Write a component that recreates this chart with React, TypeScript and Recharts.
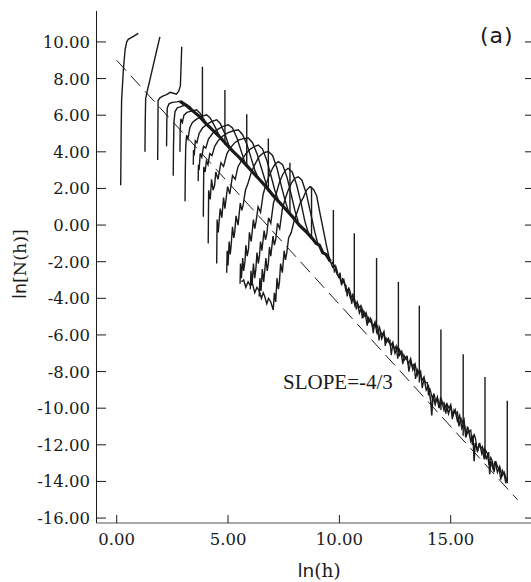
import React from "react";
import { ComposedChart, Line, XAxis, YAxis } from "recharts";

// axis ranges (the right frame edge is just outside the picture)
const X_DOMAIN: [number, number] = [-0.907, 18.74];
const Y_DOMAIN: [number, number] = [-16.27, 11.69];
const xTicks = [0, 5, 10, 15];
const yTicks = [-16, -14, -12, -10, -8, -6, -4, -2, 0, 2, 4, 6, 8, 10];

// dashed fit, slope -4/3
const fitLine = [[0, 9], [18, -15]];

// first three (short) curves
const curveA1 = [[0.18, 2.18], [0.2, 5.0], [0.22, 6.8], [0.3, 8.5], [0.38, 9.6], [0.45, 10.01], [0.52, 10.14], [0.75, 10.3], [0.97, 10.47]];
const curveA2 = [[1.27, 4.0], [1.28, 5.5], [1.3, 6.9], [1.35, 7.2], [1.6, 8.5], [1.78, 9.45], [1.94, 10.28]];
const curveA3 = [[1.84, 3.55], [1.85, 5.2], [1.86, 6.8], [1.94, 6.95], [2.09, 7.05], [2.24, 7.12], [2.4, 7.25], [2.55, 7.2], [2.68, 7.15], [2.78, 7.3], [2.86, 7.6], [2.92, 9.74]];

// bump curves: left edge, noisy rise, rounded peak, fall onto the common band
const bumpB = [[2.24, 4.3], [2.25, 5.6], [2.27, 6.4], [2.35, 6.62], [2.5, 6.7], [2.7, 6.73], [2.84, 6.76], [3.0, 6.68], [3.2, 6.45], [3.4, 6.25]];
const bumpC = [[2.54, 2.7], [2.55, 4.2], [2.57, 5.6], [2.62, 6.2], [2.72, 6.4], [2.85, 6.45], [3.0, 6.52], [3.14, 6.58], [3.3, 6.45], [3.5, 6.15], [3.7, 5.9]];
const bumpD = [[2.84, 4.0], [2.85, 5.2], [2.88, 5.8], [2.95, 5.6], [3.02, 6.0], [3.15, 6.15], [3.35, 6.22], [3.59, 6.3], [3.75, 6.1], [3.95, 5.7], [4.15, 5.35]];
const bumpE = [[3.07, 1.3], [3.08, 2.9], [3.1, 4.3], [3.14, 4.9], [3.2, 4.7], [3.28, 5.3], [3.4, 5.6], [3.6, 5.8], [3.85, 5.95], [4.04, 6.02], [4.2, 5.85], [4.4, 5.4], [4.6, 4.9]];
const bumpF = [[3.44, 3.3], [3.45, 4.1], [3.48, 3.8], [3.53, 4.6], [3.6, 4.5], [3.7, 5.0], [3.85, 5.3], [4.05, 5.5], [4.25, 5.65], [4.49, 5.75], [4.65, 5.55], [4.85, 5.0], [5.05, 4.3]];
const bumpG = [[3.66, 2.4], [3.67, 3.3], [3.7, 3.0], [3.75, 3.9], [3.82, 3.7], [3.9, 4.3], [4.0, 4.2], [4.12, 4.7], [4.3, 5.0], [4.5, 5.2], [4.75, 5.38], [5.01, 5.48], [5.2, 5.3], [5.4, 4.75], [5.6, 4.0], [5.75, 3.45]];
const bumpH = [[3.89, 0.45], [3.9, 1.8], [3.91, 3.18], [3.97, 2.9], [4.03, 3.5], [4.1, 3.3], [4.18, 3.9], [4.28, 3.8], [4.4, 4.3], [4.55, 4.6], [4.75, 4.85], [5.0, 5.05], [5.25, 5.15], [5.46, 5.2], [5.65, 4.95], [5.85, 4.4], [6.05, 3.6], [6.2, 3.0], [6.35, 2.6]];
const bumpI = [[4.11, -1.0], [4.12, 0.5], [4.13, 1.9], [4.2, 1.4], [4.26, 2.5], [4.33, 1.9], [4.4, 2.2], [4.45, 2.9], [4.55, 2.5], [4.62, 3.0], [4.68, 3.4], [4.8, 3.2], [4.95, 3.9], [5.1, 4.2], [5.3, 4.5], [5.5, 4.65], [5.7, 4.72], [5.91, 4.75], [6.1, 4.5], [6.3, 3.9], [6.5, 3.1], [6.65, 2.5], [6.8, 1.95]];
const bumpJ = [[4.49, -2.1], [4.5, -0.8], [4.51, 0.3], [4.56, -0.4], [4.6, 0.2], [4.65, 0.9], [4.72, 0.4], [4.8, 1.5], [4.86, 0.9], [4.9, 1.3], [4.98, 2.1], [5.08, 1.7], [5.2, 2.7], [5.32, 2.5], [5.45, 3.2], [5.6, 3.5], [5.8, 3.9], [6.0, 4.15], [6.2, 4.3], [6.36, 4.37], [6.55, 4.15], [6.75, 3.5], [6.95, 2.6], [7.1, 1.9], [7.25, 1.4]];
const bumpK = [[4.94, -2.6], [4.96, -1.4], [5.0, -2.2], [5.05, -0.9], [5.1, -1.6], [5.14, -1.1], [5.2, -0.1], [5.26, -0.7], [5.3, -0.4], [5.36, 0.5], [5.45, 0.0], [5.55, 1.2], [5.62, 0.8], [5.68, 1.1], [5.78, 1.9], [5.9, 2.3], [6.05, 2.9], [6.2, 3.3], [6.4, 3.75], [6.6, 3.95], [6.81, 4.02], [7.0, 3.8], [7.2, 3.1], [7.4, 2.1], [7.55, 1.4], [7.7, 0.8]];
const bumpL = [[5.54, -3.2], [5.56, -2.1], [5.6, -2.9], [5.66, -1.8], [5.7, -2.5], [5.76, -2.0], [5.8, -1.1], [5.86, -1.7], [5.92, -1.3], [5.96, -0.4], [6.04, -0.9], [6.14, 0.3], [6.2, -0.2], [6.26, 0.2], [6.35, 1.0], [6.46, 0.7], [6.58, 1.7], [6.7, 2.2], [6.85, 2.7], [7.0, 3.1], [7.13, 3.35], [7.26, 3.46], [7.45, 3.3], [7.65, 2.6], [7.85, 1.6], [8.0, 0.8], [8.15, 0.2]];
const bumpM = [[6.0, -3.5], [6.03, -2.5], [6.08, -3.3], [6.14, -2.1], [6.2, -2.9], [6.25, -2.4], [6.3, -1.5], [6.36, -2.1], [6.41, -1.7], [6.46, -0.9], [6.52, -1.4], [6.62, -0.3], [6.68, -0.8], [6.74, -0.5], [6.82, 0.4], [6.92, 0.1], [7.04, 1.2], [7.16, 1.7], [7.3, 2.3], [7.45, 2.75], [7.58, 3.0], [7.7, 3.1], [7.88, 2.9], [8.08, 2.2], [8.28, 1.2], [8.45, 0.2], [8.6, -0.4]];
const bumpN = [[6.4, -3.9], [6.43, -2.9], [6.48, -3.6], [6.54, -2.4], [6.6, -3.1], [6.64, -2.6], [6.7, -1.8], [6.76, -2.5], [6.81, -2.1], [6.86, -1.2], [6.92, -1.7], [7.02, -0.6], [7.08, -1.1], [7.14, -0.8], [7.22, 0.1], [7.32, -0.2], [7.44, 0.9], [7.56, 1.4], [7.7, 1.9], [7.85, 2.3], [8.0, 2.55], [8.15, 2.64], [8.32, 2.45], [8.52, 1.7], [8.72, 0.6], [8.9, -0.4], [9.05, -1.1]];
const bumpO = [[5.6, -3.1], [5.7, -3.0], [5.8, -3.4], [5.9, -3.1], [6.0, -3.3], [6.1, -3.2], [6.2, -3.7], [6.3, -3.4], [6.4, -3.6], [6.5, -4.0], [6.58, -3.7], [6.65, -3.9], [6.74, -4.3], [6.82, -4.0], [6.92, -4.2], [7.03, -4.64], [7.08, -3.7], [7.14, -4.2], [7.2, -2.9], [7.26, -3.5], [7.31, -3.1], [7.36, -2.1], [7.44, -2.6], [7.52, -1.4], [7.58, -1.9], [7.64, -1.5], [7.72, -0.7], [7.84, -0.4], [7.96, 0.2], [8.1, 0.7], [8.24, 1.2], [8.38, 1.5], [8.52, 1.9], [8.68, 2.1], [8.84, 1.95], [8.98, 1.6], [9.13, 0.64], [9.28, -0.27], [9.43, -1.18], [9.58, -2.0]];

// the thick common band, smooth part and noisy tail (two overlapping traces)
const bandHead = [[2.85, 6.75], [3.1, 6.55], [3.4, 6.25], [3.7, 5.95], [4.0, 5.55], [4.3, 5.2], [4.6, 4.85], [4.9, 4.45], [5.2, 4.05], [5.5, 3.7], [5.8, 3.3], [6.1, 2.9], [6.4, 2.5], [6.7, 2.1], [7.0, 1.65], [7.3, 1.25], [7.6, 0.85], [7.9, 0.45], [8.2, 0.0], [8.5, -0.35], [8.8, -0.75], [8.95, -1.0], [9.1, -1.1], [9.25, -1.5], [9.4, -1.6], [9.6, -2.0]];
const bandTail = [
  [9.6, -2.0], [9.7, -2.3], [9.8, -2.2], [9.9, -2.7], [10.0, -2.8], [10.1, -3.2], [10.2, -3.0], [10.3, -3.6], [10.4, -3.5], [10.5, -4.0],
  [10.6, -3.8], [10.7, -4.4], [10.8, -4.2], [10.9, -4.8], [11.0, -4.5], [11.1, -5.0], [11.2, -4.8], [11.3, -5.3], [11.4, -5.1], [11.5, -5.6],
  [11.6, -5.3], [11.7, -5.9], [11.8, -5.6], [11.9, -6.2], [12.0, -5.9], [12.1, -6.4], [12.2, -6.2], [12.3, -6.6], [12.4, -6.4], [12.5, -7.0],
  [12.6, -6.7], [12.7, -7.1], [12.8, -6.9], [12.9, -7.4], [13.0, -7.2], [13.1, -7.6], [13.2, -7.3], [13.3, -7.9], [13.4, -7.6], [13.5, -8.2],
  [13.6, -7.9], [13.7, -8.5], [13.8, -8.3], [13.9, -9.0], [14.0, -8.8], [14.1, -9.6], [14.15, -10.4], [14.2, -9.3], [14.3, -9.8], [14.4, -9.4],
  [14.5, -9.9], [14.6, -9.6], [14.7, -10.1], [14.8, -9.8], [14.9, -10.3], [15.0, -9.9], [15.1, -10.4], [15.2, -10.1], [15.3, -10.7], [15.4, -10.4],
  [15.5, -11.1], [15.6, -10.8], [15.7, -11.5], [15.8, -11.2], [15.9, -11.8], [16.0, -11.5], [16.05, -12.9], [16.1, -11.9], [16.2, -12.3], [16.3, -11.9],
  [16.4, -12.5], [16.5, -12.2], [16.6, -12.8], [16.7, -12.4], [16.75, -13.6], [16.8, -12.9], [16.9, -13.3], [17.0, -12.9], [17.1, -13.5], [17.2, -13.2],
  [17.3, -13.7], [17.4, -13.5], [17.5, -13.9],
];
const bandTail2 = [
  [9.65, -2.1], [9.72, -2.0], [9.78, -2.6], [9.85, -2.3], [9.9, -2.5], [9.97, -2.9], [10.03, -2.6], [10.1, -3.3], [10.15, -2.9], [10.22, -3.2],
  [10.3, -3.3], [10.35, -3.9], [10.42, -3.4], [10.5, -3.7], [10.55, -4.3], [10.62, -3.9], [10.7, -4.1], [10.76, -4.6], [10.82, -4.3], [10.9, -4.5],
  [10.96, -4.4], [11.03, -5.1], [11.1, -4.7], [11.17, -4.9], [11.25, -5.5], [11.3, -5.0], [11.38, -5.3], [11.45, -5.2], [11.52, -5.9], [11.58, -5.4],
  [11.65, -5.6], [11.72, -5.5], [11.78, -6.3], [11.85, -5.8], [11.92, -6.0], [12.0, -5.8], [12.06, -6.6], [12.13, -6.2], [12.2, -6.4], [12.27, -6.3],
  [12.33, -7.1], [12.4, -6.5], [12.48, -6.8], [12.55, -6.6], [12.62, -7.3], [12.7, -6.8], [12.77, -7.0], [12.85, -7.6], [12.9, -7.1], [12.98, -7.3],
  [13.05, -7.2], [13.12, -8.0], [13.2, -7.5], [13.27, -7.7], [13.35, -7.6], [13.42, -8.4], [13.5, -7.9], [13.57, -8.1], [13.65, -8.0], [13.72, -8.9],
  [13.8, -8.4], [13.87, -8.6], [13.95, -8.6], [14.0, -9.3], [14.05, -8.9], [14.1, -9.1], [14.18, -9.5], [14.25, -9.2], [14.32, -9.6], [14.4, -9.5],
  [14.47, -10.0], [14.55, -9.4], [14.62, -9.8], [14.7, -9.7], [14.78, -10.3], [14.85, -9.8], [14.92, -10.0], [15.0, -9.8], [15.07, -10.6], [15.15, -10.1],
  [15.22, -10.3], [15.3, -10.2], [15.37, -11.0], [15.45, -10.5], [15.52, -10.8], [15.6, -10.6], [15.67, -11.6], [15.75, -11.0], [15.82, -11.3], [15.9, -11.2],
  [15.97, -12.0], [16.05, -11.4], [16.12, -11.7], [16.2, -12.4], [16.27, -12.0], [16.35, -12.2], [16.42, -12.1], [16.5, -12.8], [16.57, -12.3], [16.65, -12.5],
  [16.72, -13.1], [16.8, -12.7], [16.87, -12.9], [16.95, -13.5], [17.02, -12.9], [17.1, -13.2], [17.17, -13.3], [17.25, -13.9], [17.32, -13.4], [17.4, -13.6],
  [17.47, -14.1], [17.52, -13.8],
];

// end spikes of the curves
const spikeX = [3.85, 4.86, 5.84, 6.81, 7.78, 8.75, 9.73, 10.67, 11.67, 12.65, 13.59, 14.56, 15.56, 16.54, 17.54];
const spikeBase = [5.9, 4.4, 3.25, 1.8, 0.55, -0.7, -2.35, -4.2, -5.9, -7.0, -8.6, -10.1, -11.5, -12.7, -14.1];
const spikeTop = [8.65, 7.37, 6.05, 4.73, 3.4, 2.1, 0.82, -0.45, -1.8, -3.1, -4.4, -5.7, -7.05, -8.3, -9.6];

const pts = (a: number[][]) => a.map(([x, y]) => ({ x, y }));

const thinCurves = [curveA1, curveA2, curveA3, bumpB, bumpC, bumpD, bumpE, bumpF, bumpG, bumpH, bumpI, bumpJ, bumpK, bumpL, bumpM, bumpN, bumpO];
const spikes = spikeX.map((x, i) => [[x, spikeBase[i]], [x, spikeTop[i]]]);

const INK = "#1a1a1a";
const SERIF = "'DejaVu Serif', serif";
const SANS = "'DejaVu Sans', sans-serif";

function LeftTick({ x, y, payload }: any) {
  return (
    <g>
      <line x1={x + 6.5} x2={x + 16} y1={y} y2={y} stroke={INK} />
      <text x={x} y={y} dy="0.36em" textAnchor="end" fontFamily={SERIF} fontSize={16.5} fill={INK}>
        {Number(payload.value).toFixed(2)}
      </text>
    </g>
  );
}

function BottomTick({ x, y, payload }: any) {
  return (
    <g>
      <line x1={x} x2={x} y1={y - 10} y2={y - 18} stroke={INK} />
      <text x={x} y={y} dy="0.71em" textAnchor="middle" fontFamily={SERIF} fontSize={16.5} fill={INK}>
        {Number(payload.value).toFixed(2)}
      </text>
    </g>
  );
}

function TopTick({ x, y }: any) {
  return <line x1={x} x2={x} y1={y} y2={y + 9} stroke={INK} />;
}

function RightTick({ x, y }: any) {
  return <line x1={x - 9} x2={x} y1={y} y2={y} stroke={INK} />;
}

export default function App() {
  return (
    <div style={{ position: "absolute", left: 0, top: 0, width: 531, height: 582, overflow: "hidden", background: "#fff" }}>
      <ComposedChart width={540} height={582} margin={{ top: 11, right: 0, bottom: 0, left: 0 }}>
        <XAxis
          xAxisId="b"
          type="number"
          dataKey="x"
          domain={X_DOMAIN}
          allowDataOverflow
          ticks={xTicks}
          interval={0}
          height={59}
          tickLine={false}
          tickSize={0}
          tickMargin={10}
          tick={<BottomTick />}
          axisLine={{ stroke: "#555" }}
          label={() => (
            <text x={319} y={577} textAnchor="middle" fontSize={18.5} fill={INK}>
              <tspan fontFamily={SANS}>ln</tspan>
              <tspan fontFamily={SERIF}>(h)</tspan>
            </text>
          )}
        />
        <XAxis
          xAxisId="t"
          orientation="top"
          type="number"
          dataKey="x"
          domain={X_DOMAIN}
          allowDataOverflow
          ticks={xTicks}
          interval={0}
          height={0}
          tickLine={false}
          tickSize={0}
          tickMargin={0}
          tick={<TopTick />}
          axisLine={{ stroke: "#333" }}
        />
        <YAxis
          yAxisId="l"
          type="number"
          domain={Y_DOMAIN}
          allowDataOverflow
          ticks={yTicks}
          interval={0}
          width={96.5}
          tickLine={false}
          tickSize={0}
          tickMargin={6.5}
          tick={<LeftTick />}
          axisLine={{ stroke: INK }}
          label={() => (
            <text x={20} y={264} transform="rotate(-90 20 264)" textAnchor="middle" dominantBaseline="central" fontSize={17.5} fill={INK}>
              <tspan fontFamily={SANS}>ln</tspan>
              <tspan fontFamily={SERIF}>[N(h)]</tspan>
            </text>
          )}
        />
        <YAxis
          yAxisId="r"
          orientation="right"
          type="number"
          domain={Y_DOMAIN}
          allowDataOverflow
          ticks={yTicks}
          interval={0}
          width={6}
          tickLine={false}
          tickSize={0}
          tickMargin={0}
          tick={<RightTick />}
          axisLine={{ stroke: INK }}
        />

        <Line xAxisId="b" yAxisId="l" data={pts(fitLine)} dataKey="y" stroke={INK} strokeWidth={1} strokeDasharray="14 7" dot={false} activeDot={false} isAnimationActive={false} />

        <Line xAxisId="b" yAxisId="l" data={pts(bandHead)} dataKey="y" stroke={INK} strokeWidth={3.2} dot={false} activeDot={false} isAnimationActive={false} />
        <Line xAxisId="b" yAxisId="l" data={pts(bandTail)} dataKey="y" stroke={INK} strokeWidth={1.5} dot={false} activeDot={false} isAnimationActive={false} />
        <Line xAxisId="b" yAxisId="l" data={pts(bandTail2)} dataKey="y" stroke={INK} strokeWidth={1.3} dot={false} activeDot={false} isAnimationActive={false} />

        {thinCurves.map((c, i) => (
          <Line key={"c" + i} xAxisId="b" yAxisId="l" data={pts(c)} dataKey="y" stroke={INK} strokeWidth={1.4} dot={false} activeDot={false} isAnimationActive={false} />
        ))}
        {spikes.map((s, i) => (
          <Line key={"s" + i} xAxisId="b" yAxisId="l" data={pts(s)} dataKey="y" stroke={INK} strokeWidth={1.4} dot={false} activeDot={false} isAnimationActive={false} />
        ))}
      </ComposedChart>
      <svg width={531} height={582} style={{ position: "absolute", left: 0, top: 0, pointerEvents: "none" }}>
        <text x={480} y={43} fontFamily={SANS} fontSize={22} letterSpacing={1} fill={INK}>(a)</text>
        <text x={283} y={389} fontFamily="'Liberation Serif', serif" fontSize={21} fill={INK}>SLOPE=-4/3</text>
      </svg>
    </div>
  );
}
